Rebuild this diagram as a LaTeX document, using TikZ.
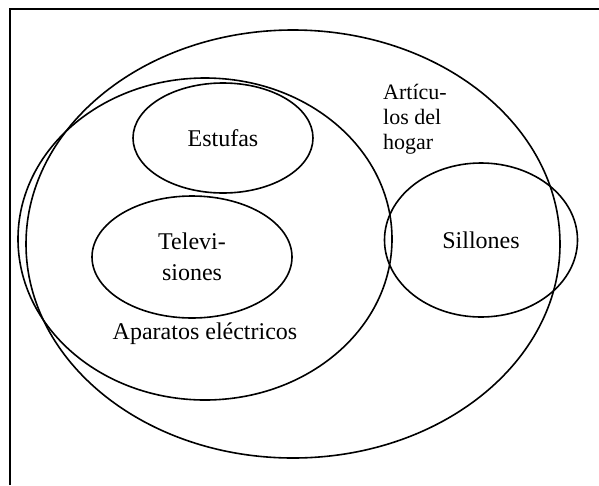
\documentclass[tikz,border=0pt]{standalone}
\usepackage{fontspec}
\setmainfont{Liberation Serif}
\usetikzlibrary{shapes.geometric}
\tikzset{
  conjunto/.style={draw,line width=1.6pt,ellipse,inner sep=0pt},
  etiqueta/.style={font=\rmfamily\fontsize{24}{31}\selectfont,align=center}
}
\begin{document}
\begin{tikzpicture}[x=1pt,y=-1pt]
  \useasboundingbox (0,0) rectangle (599,485);
  % marco
  \draw[line width=1.6pt] (10,485) -- (10,9) -- (599,9);
  % conjuntos
  \node[conjunto,minimum width=534pt,minimum height=428pt] (hogar) at (293,244) {};
  \node[conjunto,minimum width=374pt,minimum height=322pt] (aparatos) at (205,239) {};
  \node[conjunto,etiqueta,minimum width=180pt,minimum height=110pt] (estufas) at (223,138) {Estufas};
  \node[conjunto,etiqueta,minimum width=200pt,minimum height=122pt] (teles) at (192,257) {Televi-\\siones};
  \node[conjunto,etiqueta,minimum width=193pt,minimum height=154pt] (sillones) at (481,240) {Sillones};
  % nombres
  \node[etiqueta] (nomaparatos) at (205,334) {Aparatos eléctricos};
  \node[etiqueta,font=\rmfamily\fontsize{22}{25}\selectfont,align=left,anchor=base west,inner sep=0pt] (nomhogar) at (383,149) {Artícu-\\los del\\hogar};
\end{tikzpicture}
\end{document}
